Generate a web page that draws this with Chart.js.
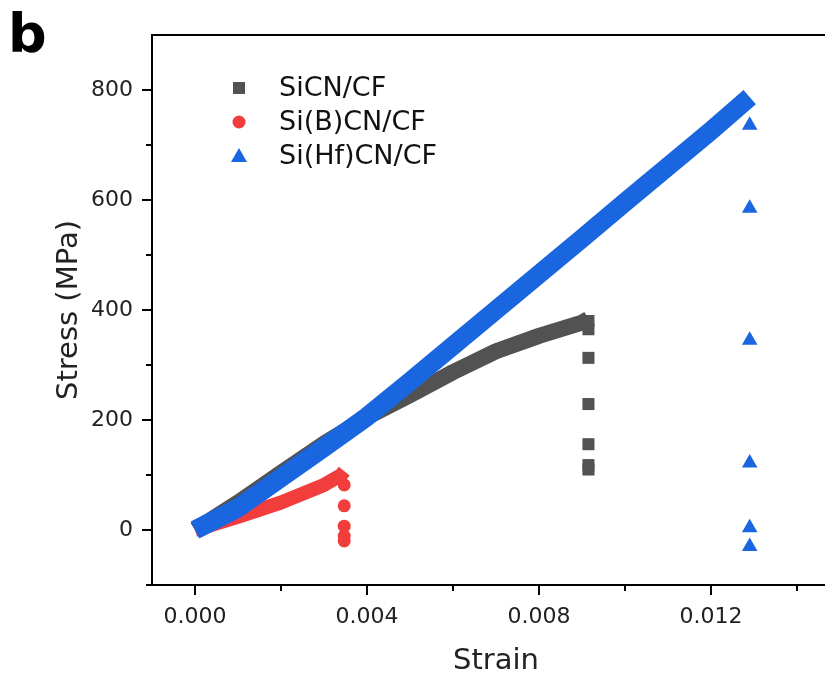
<!DOCTYPE html>
<html>
<head>
<meta charset="utf-8">
<script src="https://cdn.jsdelivr.net/npm/chart.js@4/dist/chart.umd.min.js"></script>
<style>
    html, body { margin: 0; padding: 0; background: #fff; overflow: hidden; }
    #wrap { position: relative; width: 850px; height: 679px; }
    #panel { position: absolute; left: 8px; top: 2px; font: bold 54px "DejaVu Sans", sans-serif; color: #000; }
</style>
</head>
<body>
<div id="wrap">
    <canvas id="stressChart" width="850" height="679"></canvas>
    <div id="panel">b</div>
</div>
<script>
// Datos (deformacion / esfuerzo en MPa)
const seriesNames = ['SiCN/CF', 'Si(B)CN/CF', 'Si(Hf)CN/CF'];

const sicnStrain = [0, 0.001, 0.002, 0.003, 0.004, 0.005, 0.006, 0.007, 0.008, 0.009, 0.00915];
const sicnStress = [0, 50, 104, 157, 205, 245, 287, 325, 353, 377, 384];
const sicnDropStrain = [0.00915, 0.00915, 0.00915, 0.00915, 0.00915, 0.00915, 0.00915];
const sicnDropStress = [380, 365, 313, 229, 156, 118, 110];

const bcnStrain = [0, 0.001, 0.002, 0.003, 0.0034, 0.00347];
const bcnStress = [0, 24, 50, 82, 100, 107];
const bcnDropStrain = [0.00347, 0.00347, 0.00347, 0.00347, 0.00347];
const bcnDropStress = [82, 44, 7, -11, -20];

const hfStrain = [0, 0.001, 0.002, 0.003, 0.004, 0.005, 0.006, 0.007, 0.008, 0.009, 0.010, 0.011, 0.012, 0.0129];
const hfStress = [0, 40, 95, 150, 206, 270, 335, 400, 465, 530, 596, 661, 726, 787];
const hfDropStrain = [0.0129, 0.0129, 0.0129, 0.0129, 0.0129, 0.0129];
const hfDropStress = [736, 585, 345, 122, 4, -30];

const xMajor = [0, 0.004, 0.008, 0.012];
const xMinor = [0.002, 0.006, 0.010, 0.014];
const yMajor = [0, 200, 400, 600, 800];
const yMinor = [-100, 100, 300, 500, 700];

const colors = ['#525252', '#f23d3d', '#1a66e0'];
const markers = ['rect', 'circle', 'triangle'];

const toPoints = (xs, ys) => xs.map((x, i) => ({ x, y: ys[i] }));

function curve(xs, ys, color, width) {
    return {
        type: 'line',
        data: toPoints(xs, ys),
        borderColor: color,
        backgroundColor: color,
        borderWidth: width,
        borderCapStyle: 'butt',
        borderJoinStyle: 'round',
        tension: 0,
        pointRadius: 0,
        fill: false
    };
}

function drops(xs, ys, color, style, radius) {
    return {
        type: 'scatter',
        data: toPoints(xs, ys),
        backgroundColor: color,
        borderColor: color,
        borderWidth: 0,
        pointStyle: style,
        pointRadius: radius
    };
}

// Ejes extra: linea superior, ticks menores y leyenda dentro del grafico
const axisExtras = {
    id: 'axisExtras',
    afterDraw(chart) {
        const { ctx, chartArea, scales: { x, y } } = chart;
        ctx.save();
        ctx.strokeStyle = '#000';
        ctx.lineWidth = 2;
        ctx.beginPath();
        ctx.moveTo(chartArea.left - 1, chartArea.top);
        ctx.lineTo(chartArea.right, chartArea.top);
        xMinor.forEach(v => {
            const px = x.getPixelForValue(v);
            ctx.moveTo(px, chartArea.bottom);
            ctx.lineTo(px, chartArea.bottom + 6);
        });
        yMinor.forEach(v => {
            const py = y.getPixelForValue(v);
            ctx.moveTo(chartArea.left, py);
            ctx.lineTo(chartArea.left - 6, py);
        });
        ctx.stroke();

        // leyenda
        const mx = 239, tx = 279, rows = [88, 122, 156];
        ctx.font = '27px "DejaVu Sans", sans-serif';
        ctx.textBaseline = 'middle';
        seriesNames.forEach((name, i) => {
            const cy = rows[i];
            ctx.fillStyle = colors[i];
            ctx.beginPath();
            if (markers[i] === 'rect') {
                ctx.rect(mx - 6, cy - 6, 12, 12);
            } else if (markers[i] === 'circle') {
                ctx.arc(mx, cy, 6.5, 0, Math.PI * 2);
            } else {
                ctx.moveTo(mx, cy - 8);
                ctx.lineTo(mx + 8, cy + 6);
                ctx.lineTo(mx - 8, cy + 6);
                ctx.closePath();
            }
            ctx.fill();
            ctx.fillStyle = '#111';
            ctx.fillText(name, tx, cy + 1);
        });
        ctx.restore();
    }
};

const tickFont = { family: 'DejaVu Sans', size: 22 };
const titleFont = { family: 'DejaVu Sans', size: 29 };

// El primer dataset se dibuja encima: azul, luego gris, luego rojo
new Chart(document.getElementById('stressChart').getContext('2d'), {
    data: {
        datasets: [
            drops(hfDropStrain, hfDropStress, colors[2], 'triangle', 9),
            curve(hfStrain, hfStress, colors[2], 19),
            drops(sicnDropStrain, sicnDropStress, colors[0], 'rect', 8.5),
            curve(sicnStrain, sicnStress, colors[0], 16),
            drops(bcnDropStrain, bcnDropStress, colors[1], 'circle', 6.5),
            curve(bcnStrain, bcnStress, colors[1], 14)
        ]
    },
    options: {
        responsive: false,
        animation: false,
        layout: { padding: { left: 0, top: 35, right: 10, bottom: 0 } },
        plugins: {
            legend: { display: false },
            tooltip: { enabled: false },
            title: { display: false }
        },
        scales: {
            x: {
                type: 'linear',
                min: -0.001,
                max: 0.015,
                afterBuildTicks: s => { s.ticks = xMajor.map(v => ({ value: v })); },
                afterFit: s => { s.height = 94; },
                grid: { drawOnChartArea: false, drawTicks: true, tickLength: 10, color: '#000', lineWidth: 2 },
                border: { display: true, color: '#000', width: 2 },
                ticks: {
                    color: '#222',
                    font: tickFont,
                    padding: 9,
                    maxRotation: 0,
                    callback: v => Number(v).toFixed(3)
                },
                title: { display: true, text: 'Strain', color: '#222', font: titleFont, padding: { top: 0, bottom: 0 } }
            },
            y: {
                type: 'linear',
                min: -100,
                max: 900,
                afterBuildTicks: s => { s.ticks = yMajor.map(v => ({ value: v })); },
                afterFit: s => { s.width = 152; },
                grid: { drawOnChartArea: false, drawTicks: true, tickLength: 10, color: '#000', lineWidth: 2 },
                border: { display: true, color: '#000', width: 2 },
                ticks: {
                    color: '#222',
                    font: tickFont,
                    padding: 9,
                    callback: v => String(v)
                },
                title: { display: true, text: 'Stress (MPa)', color: '#222', font: titleFont, padding: { top: 52, bottom: 0 } }
            }
        }
    },
    plugins: [axisExtras]
});
</script>
</body>
</html>
